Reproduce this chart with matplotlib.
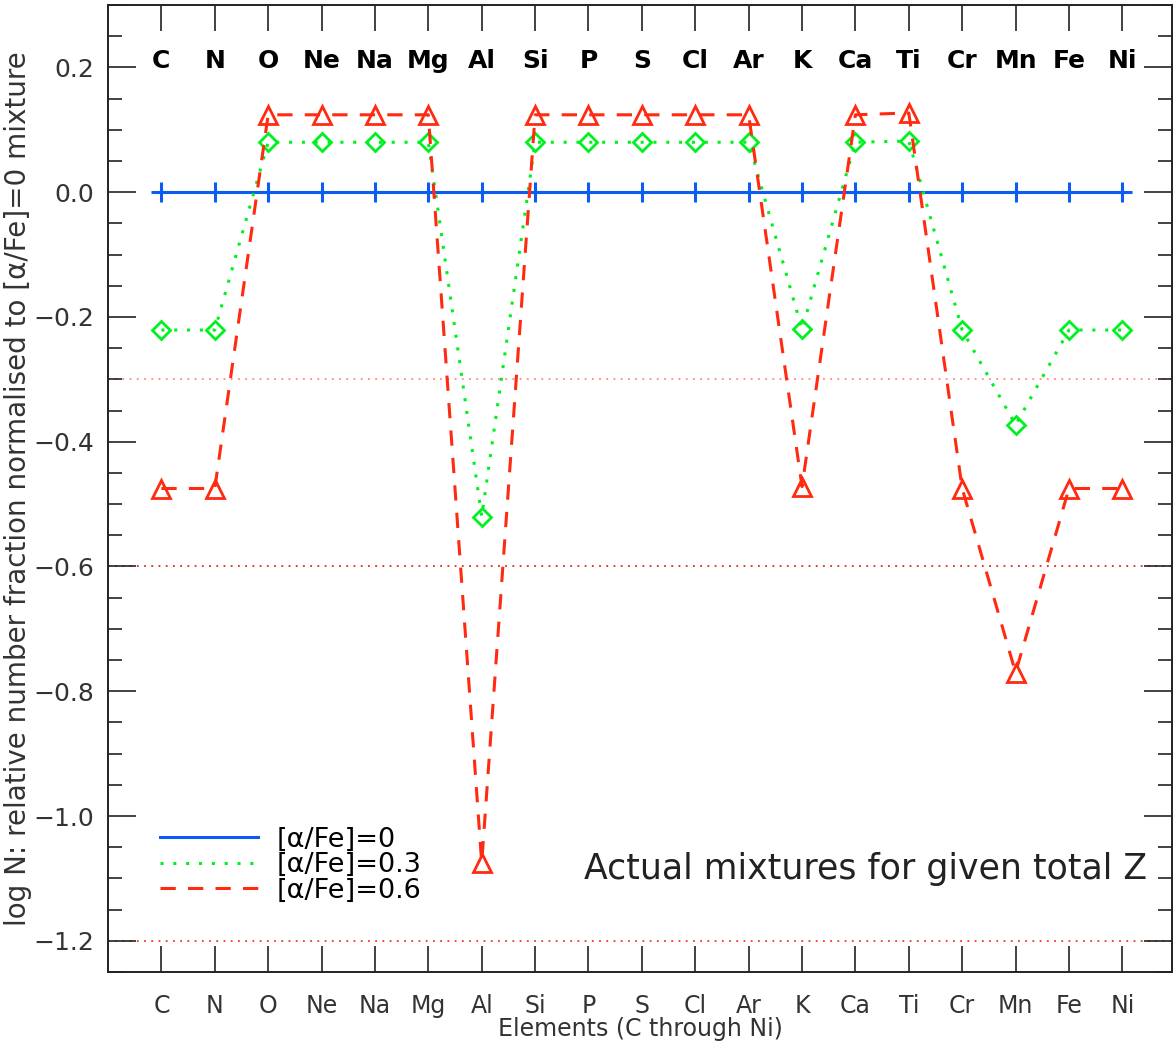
import matplotlib
matplotlib.use("Agg")
import matplotlib.pyplot as plt
from matplotlib.ticker import MultipleLocator

# element list and log N offsets relative to the [alpha/Fe]=0 mixture
elements = ["C", "N", "O", "Ne", "Na", "Mg", "Al", "Si", "P", "S",
            "Cl", "Ar", "K", "Ca", "Ti", "Cr", "Mn", "Fe", "Ni"]
afe00 = [0.0] * 19
afe03 = [-0.221, -0.221, 0.080, 0.080, 0.080, 0.080, -0.520, 0.080, 0.080, 0.080,
         0.080, 0.080, -0.220, 0.080, 0.082, -0.221, -0.373, -0.221, -0.221]
afe06 = [-0.475, -0.475, 0.124, 0.124, 0.124, 0.124, -1.075, 0.124, 0.124, 0.124,
         0.124, 0.124, -0.472, 0.124, 0.127, -0.475, -0.770, -0.475, -0.475]
ref_lines = [-0.3, -0.6, -1.2]
ref_colors = ["#ff8a80", "#d8301c", "#f03a20"]

x = list(range(len(elements)))

fig = plt.figure(figsize=(11.75, 10.48), dpi=100)
ax = fig.add_axes([108 / 1175, 1 - 972 / 1048, 1064 / 1175, 967 / 1048])

for yv, c in zip(ref_lines, ref_colors):
    ax.axhline(yv, color=c, ls=(0, (1, 3)), lw=1.3, zorder=1)

ax.plot(x, afe00, color="#0a5cf5", lw=2.2, marker="+", ms=14, mew=2.2,
        label="[α/Fe]=0", zorder=3)
ax.plot(x, afe03, color="#00f020", lw=2.2, ls=(0, (1, 3.2)), marker="D", ms=9,
        mfc="none", mec="#00f020", mew=2, label="[α/Fe]=0.3", zorder=4)
ax.plot(x, afe06, color="#ff2a10", lw=2.2, ls=(0, (5, 4)), marker="^", ms=13,
        mfc="none", mec="#ff2a10", mew=2, label="[α/Fe]=0.6", zorder=5)

ax.set_xlim(-1.0, 18.93)
ax.set_ylim(-1.25, 0.30)

ax.set_xticks(x)
ax.set_xticklabels(elements, fontsize=17, color="#333333")
ax.yaxis.set_major_locator(MultipleLocator(0.2))
ax.yaxis.set_minor_locator(MultipleLocator(0.05))
ax.yaxis.set_major_formatter(plt.FuncFormatter(lambda v, p: f"{v:.1f}".replace("-", "\u2212")))
ax.tick_params(axis="both", which="both", direction="in", top=True, right=True,
               color="#222222", width=1.2)
ax.tick_params(axis="x", which="major", length=19, pad=16)
ax.tick_params(axis="y", which="major", length=20, pad=10, labelsize=18,
               labelcolor="#333333")
ax.tick_params(axis="y", which="minor", length=10)
for s in ax.spines.values():
    s.set_color("#222222")
    s.set_linewidth(1.4)

# element names along the top
for xi, name in zip(x, elements):
    ax.text(xi, 0.211, name, ha="center", va="center", fontsize=18,
            fontweight="bold", color="black")

ax.set_xlabel("Elements (C through Ni)", fontsize=17, color="#333333", labelpad=-1)
ax.set_ylabel("log N: relative number fraction normalised to [α/Fe]=0 mixture",
              fontsize=20, color="#333333", labelpad=1)

ax.text(0.9765, 0.106, "Actual mixtures for given total Z", transform=ax.transAxes,
        ha="right", va="center", fontsize=25, color="#222222")

leg = ax.legend(loc="upper left", bbox_to_anchor=(0.049, 0.150), frameon=False,
                fontsize=19.5, handlelength=3.6, labelspacing=-0.02, handletextpad=0.7,
                borderpad=0, borderaxespad=0)
for h in leg.legend_handles:
    h.set_marker("")

fig.savefig("out.png", dpi=100)
